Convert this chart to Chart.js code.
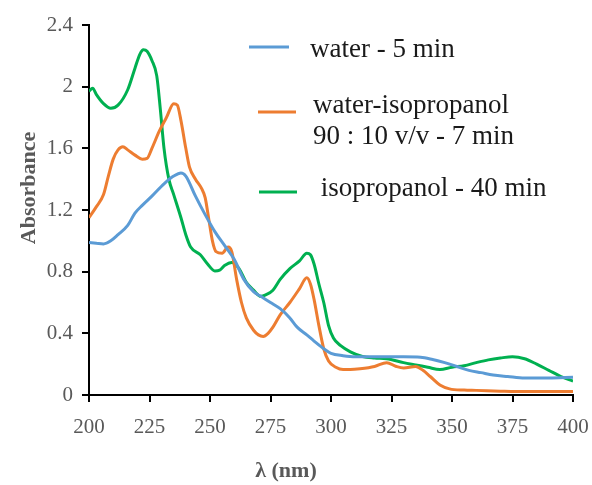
<!DOCTYPE html>
<html>
<head>
<meta charset="utf-8">
<script src="https://cdn.jsdelivr.net/npm/chart.js@4/dist/chart.umd.min.js"></script>
<style>
  body { margin: 0; background: #fff; }
  #wrap { width: 592px; height: 485px; }
</style>
</head>
<body>
<div id="wrap"><canvas id="uvChart"></canvas></div>
<script>
  // UV-Vis spectra, values
  var waterNm = [200, 203, 206, 209, 212, 216, 219, 222, 226, 231, 235, 238, 240, 244, 248, 252, 256, 260, 264, 268, 271, 275, 279, 283, 286, 290, 293, 297, 300, 305, 310, 320, 330, 337, 342, 347, 352, 357, 362, 367, 373, 380, 390, 400];
  var waterAbs = [0.99, 0.985, 0.98, 1.0, 1.04, 1.1, 1.18, 1.23, 1.29, 1.37, 1.42, 1.44, 1.42, 1.29, 1.17, 1.06, 0.97, 0.88, 0.75, 0.67, 0.64, 0.6, 0.56, 0.5, 0.44, 0.39, 0.35, 0.3, 0.27, 0.255, 0.248, 0.248, 0.248, 0.245, 0.23, 0.21, 0.185, 0.16, 0.145, 0.13, 0.12, 0.11, 0.11, 0.115];

  var mixNm = [200, 203, 206, 208, 210, 212, 214, 216, 219, 222, 224, 226, 229, 232, 235, 236.5, 238, 240, 241.5, 244, 246.5, 248, 249.5, 251, 252.5, 255, 257.5, 259, 261, 263, 265, 268, 270, 272, 274, 276, 279, 283, 287, 290, 291.5, 293, 295, 297, 299, 302, 305, 308, 312, 318, 323, 327, 330, 335, 338, 341, 345, 349, 355, 360, 370, 380, 400];
  var mixAbs = [1.15, 1.22, 1.3, 1.42, 1.53, 1.59, 1.61, 1.59, 1.556, 1.53, 1.535, 1.6, 1.71, 1.8, 1.89, 1.88, 1.78, 1.6, 1.48, 1.4, 1.34, 1.28, 1.14, 1.0, 0.93, 0.92, 0.96, 0.93, 0.75, 0.6, 0.5, 0.42, 0.39, 0.38, 0.4, 0.44, 0.52, 0.6, 0.69, 0.76, 0.72, 0.62, 0.45, 0.3, 0.22, 0.18, 0.165, 0.165, 0.17, 0.185, 0.21, 0.185, 0.175, 0.185, 0.16, 0.12, 0.065, 0.04, 0.032, 0.03, 0.025, 0.022, 0.022];

  var isoNm = [200, 201.5, 203, 206, 209, 212, 216, 219, 221, 222.5, 224, 226, 228, 229.5, 231, 233, 235, 238, 240, 242, 246, 249, 252, 254, 256, 259, 262, 265, 268, 271, 273, 276, 279, 283, 287, 290, 291.5, 293, 295, 297, 299, 301, 304, 308, 313, 318, 323, 330, 335, 340, 345, 350, 355, 360, 365, 370, 375, 380, 385, 390, 395, 400];
  var isoAbs = [1.97, 1.99, 1.95, 1.89, 1.86, 1.88, 1.98, 2.12, 2.21, 2.24, 2.23, 2.17, 2.07, 1.85, 1.6, 1.4, 1.3, 1.15, 1.04, 0.96, 0.91, 0.85, 0.805, 0.81, 0.84, 0.86, 0.82, 0.73, 0.68, 0.64, 0.65, 0.68, 0.75, 0.82, 0.87, 0.92, 0.91, 0.85, 0.72, 0.6, 0.45, 0.37, 0.32, 0.28, 0.25, 0.24, 0.235, 0.21, 0.195, 0.18, 0.165, 0.18, 0.19, 0.21, 0.228, 0.24, 0.248, 0.235, 0.2, 0.16, 0.12, 0.09];

  var seriesNames = [["water - 5 min"], ["water-isopropanol", "90 : 10 v/v - 7 min"], [" isopropanol - 40 min"]];
  var seriesColors = ["#5B9BD5", "#ED7D31", "#00B050"];

  function pts(xs, ys) {
    return xs.map(function (x, i) { return { x: x, y: ys[i] }; });
  }

  var serif = "'Liberation Serif', 'Times New Roman', serif";
  var gray = "#595959";

  // legend + axis titles placed like the original
  var decor = {
    id: 'decor',
    afterDraw: function (chart) {
      var c = chart.ctx;
      c.save();
      var rows = [
        { y: 47, x0: 249, x1: 289, tx: 310, ty: [57] },
        { y: 112, x0: 258, x1: 296, tx: 313, ty: [113, 144] },
        { y: 192, x0: 259, x1: 297, tx: 314, ty: [196] }
      ];
      c.font = "27px " + serif;
      c.textBaseline = 'alphabetic';
      rows.forEach(function (r, i) {
        c.strokeStyle = seriesColors[i];
        c.lineWidth = 3;
        c.beginPath();
        c.moveTo(r.x0, r.y);
        c.lineTo(r.x1, r.y);
        c.stroke();
        c.fillStyle = "#1a1a1a";
        seriesNames[i].forEach(function (t, k) {
          c.fillText(t, r.tx, r.ty[k]);
        });
      });
      c.fillStyle = gray;
      c.font = "bold 22px " + serif;
      c.textAlign = 'center';
      c.fillText("λ (nm)", 286, 477);
      c.translate(35, 188);
      c.rotate(-Math.PI / 2);
      c.fillText("Absorbance", 0, 0);
      c.restore();
    }
  };

  var ctx = document.getElementById('uvChart').getContext('2d');
  var myChart = new Chart(ctx, {
    type: 'line',
    data: {
      datasets: [
        { label: seriesNames[0].join(' '), data: pts(waterNm, waterAbs), borderColor: seriesColors[0] },
        { label: seriesNames[1].join(' '), data: pts(mixNm, mixAbs), borderColor: seriesColors[1] },
        { label: seriesNames[2].join(' '), data: pts(isoNm, isoAbs), borderColor: seriesColors[2] }
      ]
    },
    options: {
      responsive: true,
      maintainAspectRatio: false,
      animation: false,
      layout: { padding: { left: 0, right: 19, top: 25, bottom: 0 } },
      elements: {
        line: { borderWidth: 3, cubicInterpolationMode: 'monotone', fill: false },
        point: { radius: 0 }
      },
      plugins: {
        legend: { display: false },
        tooltip: { enabled: false }
      },
      scales: {
        x: {
          type: 'linear',
          min: 200, max: 400,
          afterFit: function (s) { s.height = 90; s.paddingLeft = 0; s.paddingRight = 0; },
          ticks: { stepSize: 25, color: gray, font: { family: serif, size: 21 }, padding: 13, maxRotation: 0 },
          grid: { drawOnChartArea: false, drawTicks: true, tickLength: 7, color: '#000', lineWidth: 2 },
          border: { color: '#000', width: 2 }
        },
        y: {
          min: 0, max: 2.4,
          afterFit: function (s) { s.width = 89; s.paddingTop = 0; s.paddingBottom = 0; },
          ticks: {
            stepSize: 0.4, color: gray, font: { family: serif, size: 21 }, padding: 9,
            callback: function (v) { return String(Number(v.toFixed(1))); }
          },
          grid: { drawOnChartArea: false, drawTicks: true, tickLength: 7, color: '#000', lineWidth: 2 },
          border: { color: '#000', width: 2 }
        }
      }
    },
    plugins: [decor]
  });
</script>
</body>
</html>
